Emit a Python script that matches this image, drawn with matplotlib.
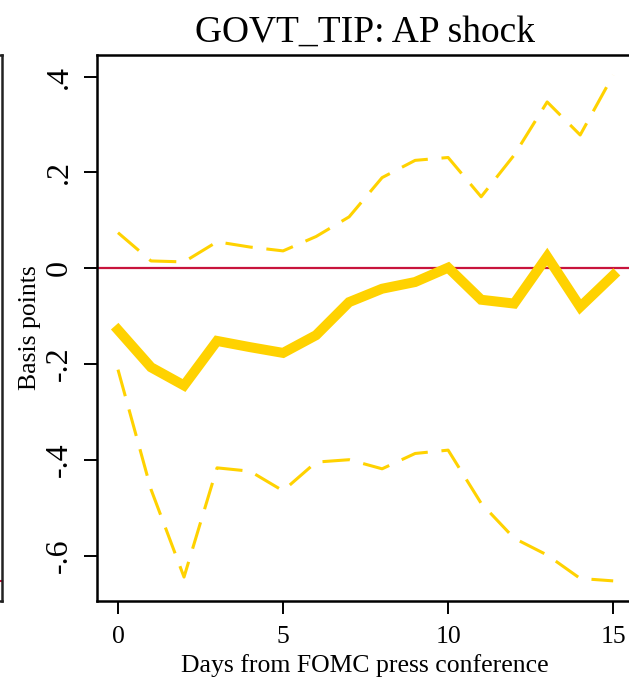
import numpy as np
import matplotlib
matplotlib.use('Agg')
import matplotlib.pyplot as plt

plt.rcParams['font.family'] = ['Liberation Serif', 'DejaVu Serif']

# impulse response, GOVT_TIP to AP shock
days = np.arange(16)
irf = [-0.129, -0.207, -0.245, -0.152, -0.165, -0.177, -0.140, -0.071,
       -0.043, -0.029, 0.001, -0.066, -0.074, 0.024, -0.081, -0.015]
upper = [0.074, 0.015, 0.013, 0.055, 0.044, 0.036, 0.066, 0.107,
         0.189, 0.225, 0.231, 0.149, 0.236, 0.347, 0.278, 0.403]
lower = [-0.212, -0.462, -0.645, -0.417, -0.424, -0.465, -0.405, -0.400,
         -0.419, -0.387, -0.380, -0.491, -0.564, -0.599, -0.648, -0.653]

xtick_vals = [0, 5, 10, 15]
ytick_vals = [0.4, 0.2, 0.0, -0.2, -0.4, -0.6]
ytick_labels = ['.4', '.2', '0', '-.2', '-.4', '-.6']

gold = '#FFD200'
red = '#C8143C'

fig = plt.figure(figsize=(6.29, 6.78), dpi=100)

# edge of the neighbouring panel, cut off on the left
ghost = fig.add_axes([-300/629, 77/678, 302/629, 546/678])
ghost.set_xticks([])
ghost.set_yticks([])
for s in ghost.spines.values():
    s.set_linewidth(1.8)
    s.set_color('#222222')
ghost.axhline(0.037, color=red, lw=1.5)

ax = fig.add_axes([97/629, 77/678, 536/629, 546/678])
ax.axhline(0, color=red, lw=1.6, zorder=1)
ax.plot(days, upper, color=gold, lw=2.2, dashes=(9, 4.5), zorder=2)
ax.plot(days, lower, color=gold, lw=2.2, dashes=(9, 4.5), zorder=2)
ax.plot(days, irf, color=gold, lw=7.2, solid_joinstyle='miter', zorder=3)

ax.set_xlim(-0.636, 15.6)
ax.set_ylim(-0.695, 0.445)
ax.set_xticks(xtick_vals)
ax.set_yticks(ytick_vals)
ax.set_yticklabels(ytick_labels)
ax.tick_params(axis='x', length=9.4, width=1.4, pad=8.6, labelsize=18.5)
ax.tick_params(axis='y', length=9.4, width=1.4, pad=7, labelsize=23,
               labelrotation=90)
for lab in ax.get_yticklabels():
    lab.set_verticalalignment('center')
for s in ax.spines.values():
    s.set_linewidth(1.8)

ax.set_xlabel('Days from FOMC press conference', fontsize=18.5)
ax.xaxis.set_label_coords(0.5, -0.098)
ax.set_ylabel('Basis points', fontsize=18.5)
ax.yaxis.set_label_coords(-0.104, 0.5)
ax.text(0.5, 1.024, 'GOVT_TIP: AP shock', transform=ax.transAxes,
        ha='center', va='baseline', fontsize=27)

fig.savefig('out.png', dpi=100)
